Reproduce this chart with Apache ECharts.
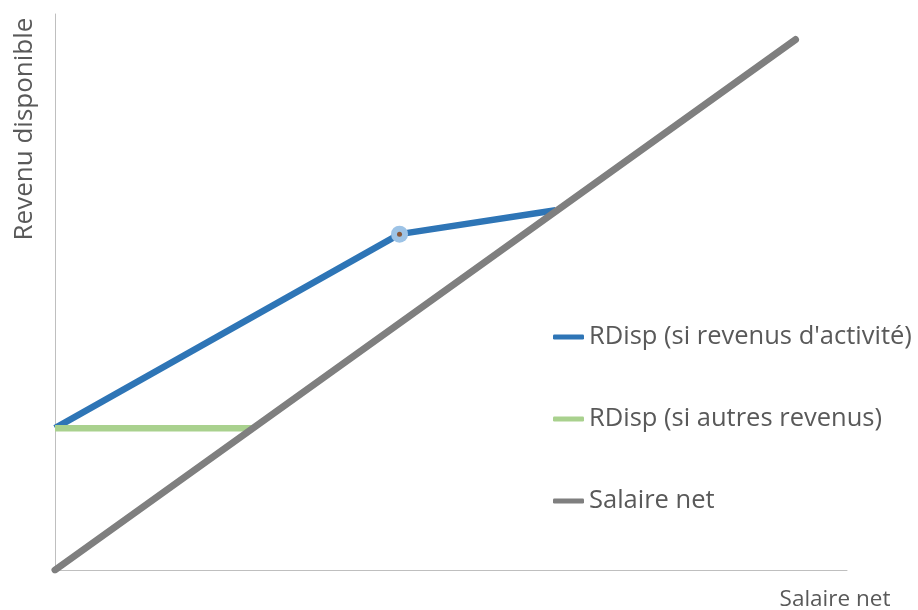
<!DOCTYPE html>
<html>
<head>
<meta charset="utf-8">
<script src="https://cdn.jsdelivr.net/npm/echarts@6/dist/echarts.min.js"></script>
<style>
  html, body { margin: 0; padding: 0; background: #fff; }
  #main { width: 918px; height: 610px; }
</style>
</head>
<body>
<div id="main"></div>
<script>
// donnees (unites arbitraires)
var seriesNames = ["RDisp (si revenus d'activité)", 'RDisp (si autres revenus)', 'Salaire net'];
var activiteX = [0, 435, 632];
var activiteY = [250, 592, 634];
var autresX = [0, 250];
var autresY = [250, 250];
var salaireX = [0, 935];
var salaireY = [0, 935];
var pointX = 435;
var pointY = 592;

function pairs(xs, ys) {
  return xs.map(function (x, i) { return [x, ys[i]]; });
}

var font = 'Open Sans';
var txtColor = '#595959';

var myChart = echarts.init(document.getElementById('main'));
var option = {
  animation: false,
  grid: { left: 55, right: 71, top: 14, bottom: 40 },
  legend: {
    data: seriesNames,
    orient: 'vertical',
    left: 548,
    top: 317,
    itemWidth: 31,
    itemHeight: 5,
    itemGap: 52,
    icon: 'roundRect',
    textStyle: { fontFamily: font, fontSize: 25.5, color: txtColor, lineHeight: 30 }
  },
  xAxis: {
    type: 'value', min: 0, max: 1000,
    axisLine: { lineStyle: { color: '#bfbfbf', width: 1 } },
    axisTick: { show: false },
    axisLabel: { show: false },
    splitLine: { show: false }
  },
  yAxis: {
    type: 'value', min: 0, max: 980,
    axisLine: { show: true, lineStyle: { color: '#bfbfbf', width: 1 } },
    axisTick: { show: false },
    axisLabel: { show: false },
    splitLine: { show: false }
  },
  graphic: [
    {
      type: 'text', x: 25, y: 129, rotation: Math.PI / 2,
      style: { text: 'Revenu disponible', fontFamily: font, fontSize: 26, fill: txtColor,
               align: 'center', verticalAlign: 'middle' }
    },
    {
      type: 'text', x: 835, y: 600,
      style: { text: 'Salaire net', fontFamily: font, fontSize: 22.5, fill: txtColor,
               align: 'center', verticalAlign: 'middle' }
    }
  ],
  series: [
    {
      name: seriesNames[0],
      type: 'line',
      data: pairs(activiteX, activiteY).map(function (p) {
        if (p[0] === pointX && p[1] === pointY) {
          return { value: p, symbol: 'circle', symbolSize: 17, itemStyle: { color: '#9dc3e6' } };
        }
        return { value: p, symbol: 'none' };
      }),
      showSymbol: true,
      color: '#2e75b6',
      lineStyle: { color: '#2e75b6', width: 6.5 }
    },
    {
      name: seriesNames[1],
      type: 'line',
      data: pairs(autresX, autresY),
      showSymbol: false,
      color: '#a9d18e',
      lineStyle: { color: '#a9d18e', width: 6.5 }
    },
    {
      name: seriesNames[2],
      type: 'line',
      data: pairs(salaireX, salaireY),
      showSymbol: false,
      color: '#7f7f7f',
      lineStyle: { color: '#7f7f7f', width: 7, cap: 'round' },
      z: 3
    },
    {
      name: 'point',
      type: 'scatter',
      data: [[pointX, pointY]],
      symbolSize: 5,
      itemStyle: { color: '#843c0c' },
      z: 4
    }
  ]
};
myChart.setOption(option);
</script>
</body>
</html>
